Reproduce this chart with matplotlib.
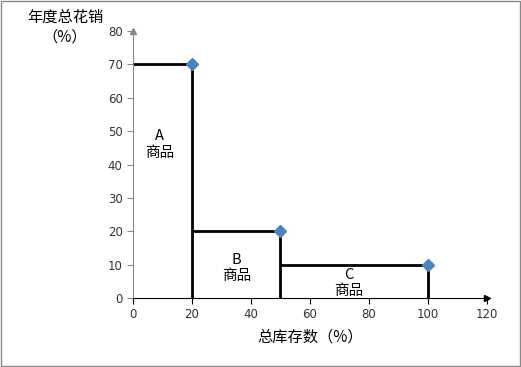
import matplotlib.pyplot as plt

plt.rcParams['font.family'] = ['Noto Sans CJK SC', 'DejaVu Sans']

# 数据
x_pts = [20, 50, 100]
y_pts = [70, 20, 10]
x_start = [0, 20, 50]
labels = ['A\n商品', 'B\n商品', 'C\n商品']
label_pos = [(9, 46), (35, 9), (73, 4.5)]

fig = plt.figure(figsize=(5.21, 3.67), dpi=100)
ax = fig.add_axes([0.2553, 0.188, 0.6794, 0.7275])

for x0, x1, y1 in zip(x_start, x_pts, y_pts):
    ax.plot([x0, x1], [y1, y1], color='black', lw=2, solid_capstyle='butt', zorder=2)
    ax.plot([x1, x1], [y1, 0], color='black', lw=2, solid_capstyle='butt', zorder=2)
ax.plot(x_pts, y_pts, linestyle='none', marker='D', markersize=6,
        color='#4F81BD', zorder=3)

for t, (tx, ty) in zip(labels, label_pos):
    ax.text(tx, ty, t, ha='center', va='center', fontsize=10.5, linespacing=1.2)

ax.set_xlim(0, 120)
ax.set_ylim(0, 80)
ax.set_xticks(range(0, 121, 20))
ax.set_yticks(range(0, 81, 10))
ax.tick_params(labelsize=8.5, length=4, colors='#333333', labelfontfamily='DejaVu Sans')
ax.tick_params(axis='y', color='#888888')
ax.tick_params(axis='x', color='black')
for s in ['top', 'right']:
    ax.spines[s].set_visible(False)
ax.spines['left'].set_color('#888888')
ax.spines['bottom'].set_color('black')

# 坐标轴箭头
ax.plot(0, 1, marker='^', color='#888888', markersize=5,
        transform=ax.transAxes, clip_on=False)
ax.plot(1, 0, marker='>', color='black', markersize=5,
        transform=ax.transAxes, clip_on=False)

ax.set_xlabel('总库存数（%）', fontsize=11, labelpad=5)
fig.text(0.125, 0.925, '年度总花销\n（%）', ha='center', va='center',
         fontsize=11, linespacing=1.2)

fig.patches.append(plt.Rectangle((0.002, 0.003), 0.996, 0.994, fill=False,
                                 edgecolor='#888888', lw=1,
                                 transform=fig.transFigure))

fig.savefig('out.png', dpi=100)
